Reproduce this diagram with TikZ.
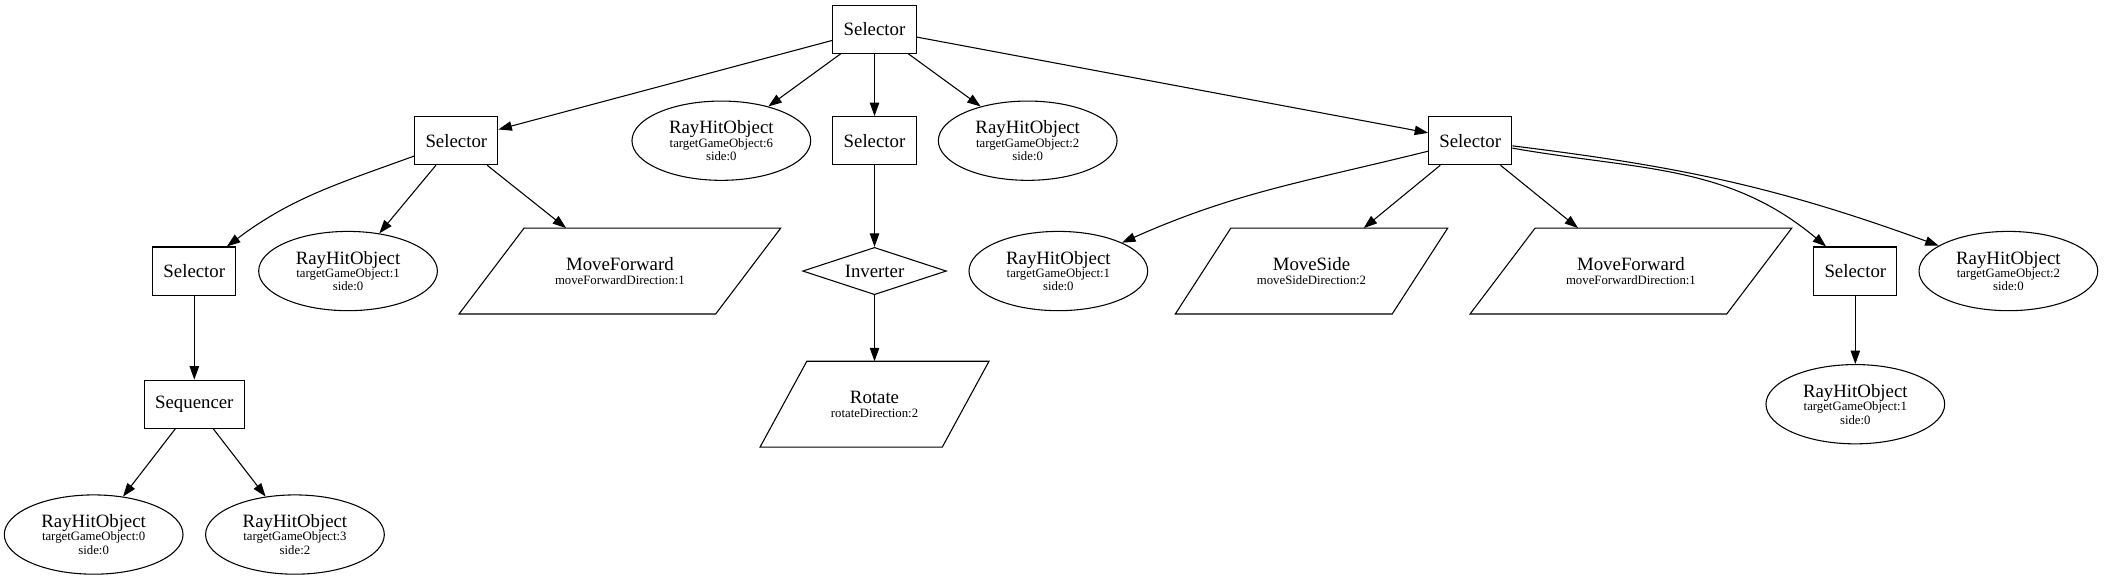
\documentclass[tikz,border=0pt]{standalone}
\usepackage{fontspec}
\setmainfont{Liberation Serif}
\usetikzlibrary{shapes.geometric}
\usetikzlibrary{arrows.meta}
\tikzset{composite node/.style={draw, line width=0.8pt, minimum width=61.5pt, minimum height=35.8pt, inner xsep=8pt, font=\fontsize{14}{16}\selectfont},
    condition node/.style={draw, ellipse, line width=0.8pt, minimum width=133pt, minimum height=59pt, inner sep=0pt, align=center, font=\fontsize{9.5}{10}\selectfont},
    action node/.style={minimum width=#1, minimum height=63.5pt, inner sep=0pt, align=center, font=\fontsize{9.5}{10.5}\selectfont},
    decorator node/.style={draw, diamond, aspect=3, line width=0.8pt, minimum width=107pt, minimum height=35.2pt, inner sep=0pt, font=\fontsize{14}{16}\selectfont},
    link/.style={line width=0.8pt, -{Triangle[length=10pt,width=7pt]}}}
\newcommand{\rayhit}[2]{{\fontsize{14}{14}\selectfont RayHitObject}\\targetGameObject:#1\\side:#2}
\newcommand{\actlabel}[2]{{\fontsize{14}{14}\selectfont #1}\\#2}
\begin{document}
\begin{tikzpicture}[x=1pt,y=1pt]
      \useasboundingbox (0,0) rectangle (1568,-431.6);
      % rank 0 and 1
      \node[composite node] (root) at (650.8,-21.7) {Selector};
      \node[composite node] (selL) at (339.6,-104.7) {Selector};
      \node[condition node] (rhoA) at (536.8,-104.7) {\rayhit{6}{0}};
      \node[composite node] (selM) at (650.8,-104.7) {Selector};
      \node[condition node] (rhoB) at (764.8,-104.7) {\rayhit{2}{0}};
      \node[composite node] (selR) at (1094.1,-104.7) {Selector};
      % rank 2
      \node[composite node] (selLL) at (144.6,-201.7) {Selector};
      \node[condition node] (rhoC) at (259,-201.7) {\rayhit{1}{0}};
      \node[action node=239pt] (mfL) at (461.3,-201.7) {\actlabel{MoveForward}{moveForwardDirection:1}};
      \node[decorator node] (inv) at (650.8,-201.7) {Inverter};
      \node[condition node] (rhoG) at (787.6,-201.7) {\rayhit{1}{0}};
      \node[action node=202.3pt] (ms) at (976,-201.7) {\actlabel{MoveSide}{moveSideDirection:2}};
      \node[action node=239pt] (mfR) at (1213.7,-201.7) {\actlabel{MoveForward}{moveForwardDirection:1}};
      \node[composite node] (selRR) at (1380.7,-201.7) {Selector};
      \node[condition node] (rhoH) at (1494.6,-201.7) {\rayhit{2}{0}};
      % rank 3 and 4
      \node[composite node] (seq) at (144.6,-300.8) {Sequencer};
      \node[action node=170pt] (rot) at (650.8,-300.8) {\actlabel{Rotate}{rotateDirection:2}};
      \node[condition node] (rhoF) at (1380.7,-300.8) {\rayhit{1}{0}};
      \node[condition node] (rhoD) at (69.7,-397.8) {\rayhit{0}{0}};
      \node[condition node] (rhoE) at (219.5,-397.8) {\rayhit{3}{2}};
      % parallelograms round the action nodes
      \foreach \n/\s in {mfL/48.4,ms/41.3,mfR/48.4,rot/34.8}
      {\draw[line width=0.8pt] (\n.south west) -- ([xshift=-\s pt]\n.south east) -- (\n.north east) -- ([xshift=\s pt]\n.north west) -- cycle;}
      \foreach \from/\to in {root/selL,root/rhoA,root/selM,root/rhoB,root/selR,selL/rhoC,selL/mfL,selLL/seq,seq/rhoD,seq/rhoE,selM/inv,inv/rot,selR/ms,selR/mfR,selRR/rhoF}
      {\draw[link] (\from) -- (\to);}
      \draw[link] (selL) to[out=200,in=37] (selLL);
      \draw[link] (selR) to[out=194,in=24] (rhoG);
      \draw[link] (selR) to[out=-10,in=140] (selRR);
      \draw[link] (selR) to[out=-7,in=160] (rhoH);
\end{tikzpicture}
\end{document}
